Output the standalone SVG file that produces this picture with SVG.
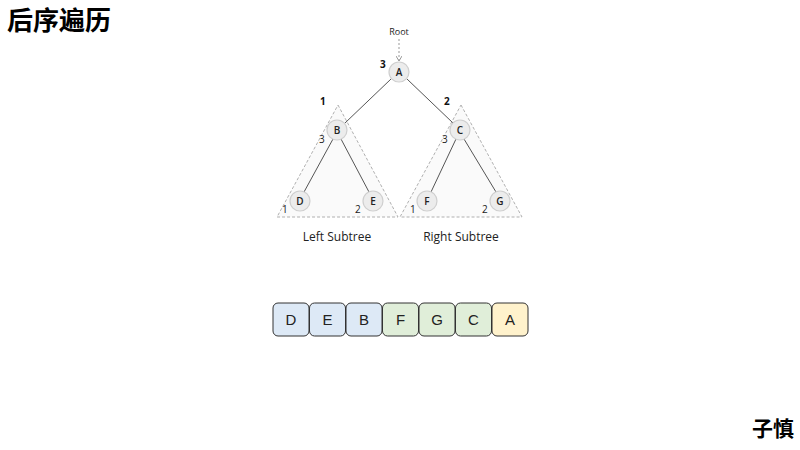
<svg xmlns="http://www.w3.org/2000/svg" width="800" height="450" viewBox="0 0 800 450">
<defs>
<style>
.tri{fill:#fafafa;stroke:#b0b0b0;stroke-width:1;stroke-dasharray:3,2}
.edge{stroke:#555;stroke-width:1;fill:none}
.node circle{fill:#ececec;stroke:#cfcfcf;stroke-width:1.2}
.node text{font-family:"Open Sans","Noto Sans",sans-serif;font-size:10px;font-weight:600;fill:#222;text-anchor:middle}
.num{font-family:"Open Sans","Noto Sans",sans-serif;font-size:10px;fill:#222}
.numb{font-family:"Open Sans","Noto Sans",sans-serif;font-size:10px;font-weight:bold;fill:#111}
.cap{font-family:"Open Sans","Noto Sans",sans-serif;font-size:12px;fill:#222;text-anchor:middle}
.box rect{stroke:#333;stroke-width:1}
.box text{font-family:"Liberation Sans",Arial,sans-serif;font-size:15px;fill:#222;text-anchor:middle}
.b{fill:#dde9f6}.g{fill:#e0eed9}.y{fill:#fff2cc}
</style>
<marker id="arr" markerWidth="6" markerHeight="6" refX="5" refY="3" orient="auto" markerUnits="userSpaceOnUse">
<path d="M0,0 L5,3 L0,6" fill="none" stroke="#999" stroke-width="1"/>
</marker>
</defs>
<rect width="800" height="450" fill="#fff"/>
<text x="7" y="30" font-family="'Noto Sans CJK SC',sans-serif" font-size="26" font-weight="bold" fill="#000">后序遍历</text>
<text x="752" y="436" font-family="'Noto Sans CJK SC',sans-serif" font-size="21" font-weight="bold" fill="#000">子慎</text>
<polygon class="tri" points="338,105 398,217 277,217"/>
<polygon class="tri" points="461,105 522,217 400,217"/>
<g id="connectors">
<line x1="399" y1="39" x2="399" y2="61" stroke="#999" stroke-width="1" stroke-dasharray="2,2" marker-end="url(#arr)"/>
<line class="edge" x1="391" y1="79" x2="345" y2="123"/>
<line class="edge" x1="407" y1="79" x2="453" y2="123"/>
<line class="edge" x1="333" y1="139" x2="304" y2="192"/>
<line class="edge" x1="341" y1="139" x2="369" y2="192"/>
<line class="edge" x1="456" y1="139" x2="431" y2="192"/>
<line class="edge" x1="464" y1="139" x2="496" y2="192"/>
</g>
<text x="399" y="35" class="cap" style="font-size:9px">Root</text>
<g id="A" class="node"><circle cx="399" cy="72" r="10"/><text x="399" y="76">A</text></g>
<g id="B" class="node"><circle cx="337" cy="130" r="10"/><text x="337" y="134">B</text></g>
<g id="C" class="node"><circle cx="460" cy="130" r="10"/><text x="460" y="134">C</text></g>
<g id="D" class="node"><circle cx="300" cy="201" r="10"/><text x="300" y="205">D</text></g>
<g id="E" class="node"><circle cx="373" cy="201" r="10"/><text x="373" y="205">E</text></g>
<g id="F" class="node"><circle cx="427" cy="201" r="10"/><text x="427" y="205">F</text></g>
<g id="G" class="node"><circle cx="500" cy="201" r="10"/><text x="500" y="205">G</text></g>
<text class="numb" x="380" y="68">3</text>
<text class="numb" x="320" y="105">1</text>
<text class="numb" x="444" y="105">2</text>
<text class="num" x="319" y="143">3</text>
<text class="num" x="442" y="143">3</text>
<text class="num" x="282" y="213">1</text>
<text class="num" x="355" y="213">2</text>
<text class="num" x="410" y="213">1</text>
<text class="num" x="482" y="213">2</text>
<text class="cap" x="337" y="241">Left Subtree</text>
<text class="cap" x="461" y="241">Right Subtree</text>
<g id="seq">
<g id="s1" class="box"><rect class="b" x="273" y="303" width="36" height="33" rx="5"/><text x="291" y="325">D</text></g>
<g id="s2" class="box"><rect class="b" x="309.5" y="303" width="36" height="33" rx="5"/><text x="327.5" y="325">E</text></g>
<g id="s3" class="box"><rect class="b" x="346" y="303" width="36" height="33" rx="5"/><text x="364" y="325">B</text></g>
<g id="s4" class="box"><rect class="g" x="382.5" y="303" width="36" height="33" rx="5"/><text x="400.5" y="325">F</text></g>
<g id="s5" class="box"><rect class="g" x="419" y="303" width="36" height="33" rx="5"/><text x="437" y="325">G</text></g>
<g id="s6" class="box"><rect class="g" x="455.5" y="303" width="36" height="33" rx="5"/><text x="473.5" y="325">C</text></g>
<g id="s7" class="box"><rect class="y" x="492" y="303" width="36" height="33" rx="5"/><text x="510" y="325">A</text></g>
</g>
</svg>
